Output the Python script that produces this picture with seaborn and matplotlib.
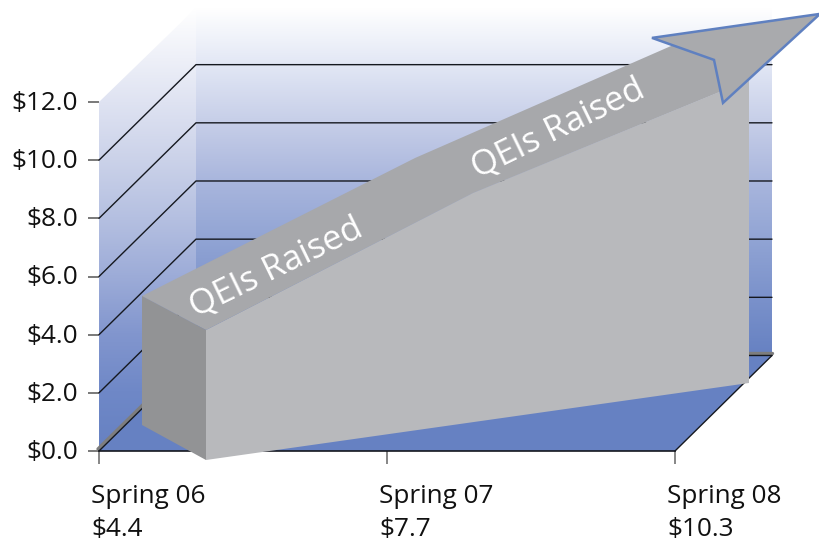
import numpy as np
import seaborn as sns
import matplotlib.pyplot as plt
from matplotlib.colors import LinearSegmentedColormap, to_rgb
from matplotlib.patches import Polygon
from matplotlib.transforms import ScaledTranslation

periods = ["Spring 06", "Spring 07", "Spring 08"]
values = [4.4, 7.7, 10.3]
y_ticks = [0, 2, 4, 6, 8, 10, 12]
y_labels = ["$0.0", "$2.0", "$4.0", "$6.0", "$8.0", "$10.0", "$12.0"]
grid_levels = [0, 2, 4, 6, 8, 10]
band_label = "QEIs Raised"

# pixel sizes of one period / one dollar, the chart is a fake 3d drawing
PX_X = 288.0
PX_Y = 29.08
X0, Y0 = 99, 451

sns.set_style("white")
plt.rcParams["font.family"] = ["Open Sans", "DejaVu Sans"]


def dx(px):
    return px / PX_X


def dy(px):
    return px / PX_Y


def px_x(px):
    return (px - X0) / PX_X


def px_y(py):
    return (Y0 - py) / PX_Y


# depth of the floor, in data units
DEPTH_X = dx(97)
DEPTH_Y = dy(95.5)

back_stops = [(8, "#ffffff"), (65, "#e2e7f5"), (123, "#c6cee8"), (181, "#a9b6dd"),
              (240, "#91a4d4"), (297, "#7b92cb"), (356, "#6681c2")]
side_stops = [(8, "#ffffff"), (102, "#dfe3f2"), (160, "#cbd2e9"), (218, "#b5c0e1"),
              (276, "#9dacd8"), (334, "#8296ce"), (392, "#6f88c7"), (451, "#6681c2")]

# where the block sits: offsets from the value at each period
block_x = [px_x(206), px_x(473), px_x(749)]
block_top_base = [-0.24, 1.17, 2.46]
block_bottom = [px_y(460), px_y(383)]
band_back_dx = [dx(-64), dx(-58), dx(-64)]
band_back_dy = [dy(34), dy(35), dy(40)]

arrow_x = [dx(-97), dx(71), dx(-26), dx(-35)]
arrow_y = [dy(42), dy(66), dy(-23), dy(20)]

fig = plt.figure(figsize=(8.2, 5.41), dpi=100)
ax = fig.add_axes([X0 / 820, (541 - Y0) / 541, 576 / 820, 349 / 541])


def gradient_face(points, stops, zorder):
    # vertical gradient image clipped to a polygon
    stops = sorted(stops, reverse=True)
    top, bottom = stops[-1][0], stops[0][0]
    pos = [(bottom - s[0]) / (bottom - top) for s in stops]
    cmap = LinearSegmentedColormap.from_list("g", [(p, to_rgb(s[1])) for p, s in zip(pos, stops)])
    img = ax.imshow(np.linspace(1, 0, 256).reshape(-1, 1), cmap=cmap, aspect="auto", vmin=0, vmax=1,
                    extent=[min(p[0] for p in points), max(p[0] for p in points), px_y(bottom), px_y(top)],
                    zorder=zorder, interpolation="bilinear")
    patch = Polygon(points, closed=True, transform=ax.transData, fc="none", ec="none")
    ax.add_patch(patch)
    patch.set_clip_on(False)
    img.set_clip_box(fig.bbox)
    img.set_clip_path(patch)


top_level = px_y(8)
gradient_face([(0, 12), (DEPTH_X, top_level), (DEPTH_X, DEPTH_Y), (0, 0)], side_stops, 1)
gradient_face([(DEPTH_X, top_level), (2 + DEPTH_X, top_level), (2 + DEPTH_X, DEPTH_Y), (DEPTH_X, DEPTH_Y)],
              back_stops, 1)
ax.add_patch(Polygon([(0, 0), (2, 0), (2 + DEPTH_X, DEPTH_Y), (DEPTH_X, DEPTH_Y)],
                     fc="#6681c2", ec="none", zorder=2, clip_on=False))

# floor edges have a grey shadow next to the black line
sns.lineplot(x=[DEPTH_X, 2 + DEPTH_X], y=[DEPTH_Y + dy(2), DEPTH_Y + dy(2)], color="#7d7d7d",
             linewidth=2.4, ax=ax, clip_on=False, zorder=3)
sns.lineplot(x=[-dx(1), DEPTH_X - dx(1)], y=[dy(2), DEPTH_Y + dy(2)], color="#7d7d7d",
             linewidth=2.4, ax=ax, clip_on=False, zorder=3, sort=False, estimator=None)

for level in grid_levels:
    sns.lineplot(x=[0, DEPTH_X, 2 + DEPTH_X], y=[level, level + DEPTH_Y, level + DEPTH_Y], color="#15181f",
                 linewidth=1.0, ax=ax, clip_on=False, zorder=3, sort=False, estimator=None)
sns.lineplot(x=[2, 2 + DEPTH_X], y=[0, DEPTH_Y], color="#15181f", linewidth=1.0, ax=ax, clip_on=False,
             zorder=3, sort=False, estimator=None)

tops = [v + b for v, b in zip(values, block_top_base)]
band_front = list(zip(block_x, tops))
band_back = [(x + a, t + b) for x, t, a, b in zip(block_x, tops, band_back_dx, band_back_dy)]

front = band_front + [(block_x[-1], block_bottom[1]), (block_x[0], block_bottom[0])]
ax.add_patch(Polygon(front, fc="#b8b9bc", ec="none", zorder=4, clip_on=False))
ax.add_patch(Polygon(band_front + band_back[::-1], fc="#a7a8ab", ec="none", zorder=5, clip_on=False))
side = [band_back[0], band_front[0], (block_x[0], block_bottom[0]),
        (band_back[0][0], block_bottom[0] + dy(35))]
ax.add_patch(Polygon(side, fc="#929395", ec="none", zorder=5, clip_on=False))

# arrow head hangs on the last value
tip_x, tip_y = band_front[-1]
head = [(tip_x + a, tip_y + b) for a, b in zip(arrow_x, arrow_y)]
ax.add_patch(Polygon(head, fc="#a9aaad", ec="#5f80c0", lw=1.8, joinstyle="miter", zorder=6, clip_on=False))

ax.text(px_x(276), px_y(268), band_label, color="white", fontsize=25, rotation=26, ha="center", va="center",
        rotation_mode="anchor", zorder=7)
ax.text(px_x(558), px_y(129), band_label, color="white", fontsize=25, rotation=26, ha="center", va="center",
        rotation_mode="anchor", zorder=7)

ax.set_xlim(0, 2)
ax.set_ylim(0, 12)
ax.set_xlabel("")
ax.set_ylabel("")
ax.patch.set_alpha(0)
ax.set_xticks(range(len(periods)))
ax.set_xticklabels([f"{p}\n${v}" for p, v in zip(periods, values)], ha="left", fontsize=18.8, linespacing=1.4)
ax.set_yticks(y_ticks)
ax.set_yticklabels(y_labels, fontsize=18.8)
ax.tick_params(axis="y", left=True, length=8, width=1.1, color="#555555", pad=7, labelcolor="#111111")
ax.tick_params(axis="x", bottom=True, length=9, width=1.1, color="#666666", pad=15, labelcolor="#111111")
shift = ScaledTranslation(-8 / 100, 0, fig.dpi_scale_trans)
for lab in ax.get_xticklabels():
    lab.set_transform(lab.get_transform() + shift)
up = ScaledTranslation(0, 1.5 / 100, fig.dpi_scale_trans)
for lab in ax.get_yticklabels():
    lab.set_transform(lab.get_transform() + up)

for name in ["left", "right", "top"]:
    ax.spines[name].set_visible(False)
ax.spines["bottom"].set_color("#15181f")
ax.spines["bottom"].set_linewidth(1.2)
ax.spines["bottom"].set_zorder(3)
ax.set_axisbelow(False)
ax.grid(False)

fig.savefig("out.png", dpi=100)
